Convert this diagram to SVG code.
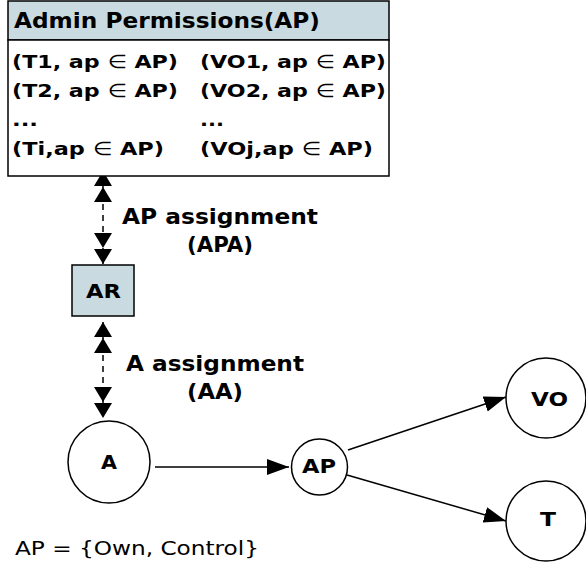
<svg xmlns="http://www.w3.org/2000/svg" width="586" height="567" viewBox="0 0 586 567">
<style>
.b{font-family:"DejaVu Sans",Verdana,sans-serif;font-weight:bold;fill:#000}
.r{font-family:"DejaVu Sans",Verdana,sans-serif;fill:#000}
.e{font-weight:normal}
.ln{stroke:#000;stroke-width:1.5;fill:none}
.dash{stroke:#000;stroke-width:1.5;fill:none;stroke-dasharray:6,5}
.nd{fill:#fff;stroke:#000;stroke-width:1.5}
.bl{fill:#c9dbe0;stroke:#000;stroke-width:1.5}
</style>
<defs>
<marker id="arr" markerUnits="userSpaceOnUse" markerWidth="24" markerHeight="18" viewBox="0 -9 24 18" refX="22" refY="0" orient="auto"><path d="M0,-8 L22,0 L0,8 Z" fill="#000"/></marker>
<marker id="dbl" markerUnits="userSpaceOnUse" markerWidth="32" markerHeight="20" viewBox="0 -10 32 20" refX="31" refY="0" orient="auto-start-reverse"><path d="M0,-9 L15,0 L0,9 Z M16,-9 L31,0 L16,9 Z" fill="#000"/></marker>
</defs>
<g id="connectors">
<line class="dash" x1="103" y1="171" x2="103" y2="264" marker-start="url(#dbl)" marker-end="url(#dbl)"/>
<line class="dash" x1="103" y1="322" x2="103" y2="418" marker-start="url(#dbl)" marker-end="url(#dbl)"/>
<line class="ln" x1="155" y1="467" x2="289" y2="467" marker-end="url(#arr)"/>
<line class="ln" x1="348" y1="450" x2="506" y2="397" marker-end="url(#arr)"/>
<line class="ln" x1="347" y1="475" x2="506" y2="521" marker-end="url(#arr)"/>
<text class="b" x="122" y="224" font-size="20.5" textLength="196" lengthAdjust="spacingAndGlyphs">AP assignment</text>
<text class="b" x="187" y="252" font-size="20.5" textLength="66" lengthAdjust="spacingAndGlyphs">(APA)</text>
<text class="b" x="126" y="371" font-size="20.5" textLength="178" lengthAdjust="spacingAndGlyphs">A assignment</text>
<text class="b" x="187" y="399" font-size="20.5" textLength="56" lengthAdjust="spacingAndGlyphs">(AA)</text>
</g>
<g id="admin-permissions">
<rect class="bl" x="8" y="1" width="381" height="39"/>
<rect class="nd" x="8" y="40" width="381" height="136"/>
<text class="b" x="14" y="28" font-size="20.5" textLength="306" lengthAdjust="spacingAndGlyphs">Admin Permissions(AP)</text>
<text class="b" x="12" y="68" font-size="18.5" textLength="166" lengthAdjust="spacingAndGlyphs">(T1, ap <tspan class="e">∈</tspan> AP)</text>
<text class="b" x="12" y="97" font-size="18.5" textLength="166" lengthAdjust="spacingAndGlyphs">(T2, ap <tspan class="e">∈</tspan> AP)</text>
<text class="b" x="12" y="126" font-size="18.5" textLength="26" lengthAdjust="spacingAndGlyphs">...</text>
<text class="b" x="12" y="155" font-size="18.5" textLength="152" lengthAdjust="spacingAndGlyphs">(Ti,ap <tspan class="e">∈</tspan> AP)</text>
<text class="b" x="200" y="68" font-size="18.5" textLength="186" lengthAdjust="spacingAndGlyphs">(VO1, ap <tspan class="e">∈</tspan> AP)</text>
<text class="b" x="200" y="97" font-size="18.5" textLength="186" lengthAdjust="spacingAndGlyphs">(VO2, ap <tspan class="e">∈</tspan> AP)</text>
<text class="b" x="200" y="126" font-size="18.5" textLength="24" lengthAdjust="spacingAndGlyphs">...</text>
<text class="b" x="200" y="155" font-size="18.5" textLength="173" lengthAdjust="spacingAndGlyphs">(VOj,ap <tspan class="e">∈</tspan> AP)</text>
</g>
<g id="AR">
<rect class="bl" x="72" y="265" width="62" height="51"/>
<text class="b" x="86" y="298" font-size="19" textLength="35" lengthAdjust="spacingAndGlyphs">AR</text>
</g>
<g id="A">
<circle class="nd" cx="109" cy="462" r="41"/>
<text class="b" x="101" y="469" font-size="20" textLength="16" lengthAdjust="spacingAndGlyphs">A</text>
</g>
<g id="AP">
<circle class="nd" cx="319.5" cy="467" r="28"/>
<text class="b" x="302" y="473" font-size="20" textLength="34" lengthAdjust="spacingAndGlyphs">AP</text>
</g>
<g id="VO">
<circle class="nd" cx="546" cy="398" r="40"/>
<text class="b" x="531" y="406" font-size="20" textLength="37" lengthAdjust="spacingAndGlyphs">VO</text>
</g>
<g id="T">
<circle class="nd" cx="546" cy="521" r="40"/>
<text class="b" x="540" y="526" font-size="20" textLength="16" lengthAdjust="spacingAndGlyphs">T</text>
</g>
<text class="r" x="15" y="555" font-size="19" textLength="244" lengthAdjust="spacingAndGlyphs">AP = {Own, Control}</text>
</svg>
